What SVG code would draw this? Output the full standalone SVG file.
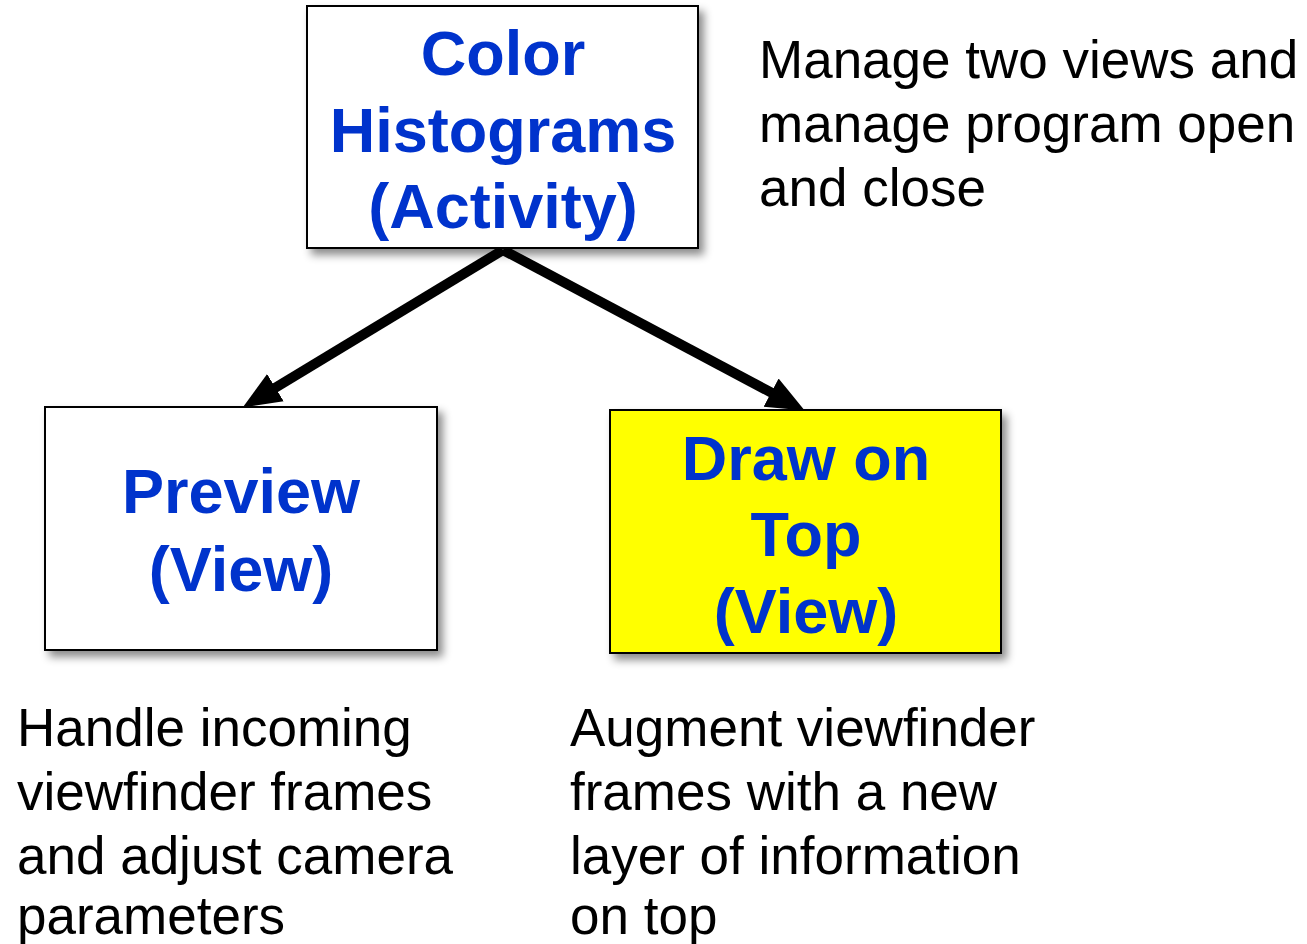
<svg xmlns="http://www.w3.org/2000/svg" width="1307" height="944" viewBox="0 0 1307 944">
<style>
.box{stroke:#000;stroke-width:2;filter:url(#sh)}
.title{font-family:"Liberation Sans",Arial,sans-serif;font-weight:bold;font-size:63px;fill:#0033cc;text-anchor:middle}
.note{font-family:"Liberation Sans",Arial,sans-serif;font-size:53px;fill:#000}
.conn{stroke:#000;stroke-width:10;fill:none;marker-end:url(#ah)}
</style>
<defs>
<filter id="sh" x="-10%" y="-10%" width="125%" height="125%">
<feDropShadow dx="5" dy="6" stdDeviation="4" flood-color="#000" flood-opacity="0.45"/>
</filter>
<marker id="ah" markerUnits="userSpaceOnUse" markerWidth="40" markerHeight="36" refX="18" refY="18" orient="auto" viewBox="0 0 40 36">
<path d="M0,2 L38,18 L0,34 Z" fill="#000"/>
</marker>
</defs>
<g id="connectors">
<path class="conn" d="M503,250 L260,397"/>
<path class="conn" d="M503,250 L787,401"/>
</g>
<g id="activity">
<rect class="box" x="307" y="6" width="391" height="242" fill="#fff"/>
<text class="title" x="503" y="75">Color</text>
<text class="title" x="503" y="152">Histograms</text>
<text class="title" x="503" y="228">(Activity)</text>
</g>
<g id="preview">
<rect class="box" x="45" y="407" width="392" height="243" fill="#fff"/>
<text class="title" x="241" y="513">Preview</text>
<text class="title" x="241" y="591">(View)</text>
</g>
<g id="drawontop">
<rect class="box" x="610" y="410" width="391" height="243" fill="#ffff00"/>
<text class="title" x="806" y="480">Draw on</text>
<text class="title" x="806" y="556">Top</text>
<text class="title" x="806" y="633">(View)</text>
</g>
<g id="note-activity">
<text class="note" x="759" y="78">Manage two views and</text>
<text class="note" x="759" y="142">manage program open</text>
<text class="note" x="759" y="206">and close</text>
</g>
<g id="note-preview">
<text class="note" x="17" y="746">Handle incoming</text>
<text class="note" x="17" y="810">viewfinder frames</text>
<text class="note" x="17" y="874">and adjust camera</text>
<text class="note" x="17" y="934">parameters</text>
</g>
<g id="note-drawontop">
<text class="note" x="570" y="746">Augment viewfinder</text>
<text class="note" x="570" y="810">frames with a new</text>
<text class="note" x="570" y="874">layer of information</text>
<text class="note" x="570" y="934">on top</text>
</g>
</svg>
